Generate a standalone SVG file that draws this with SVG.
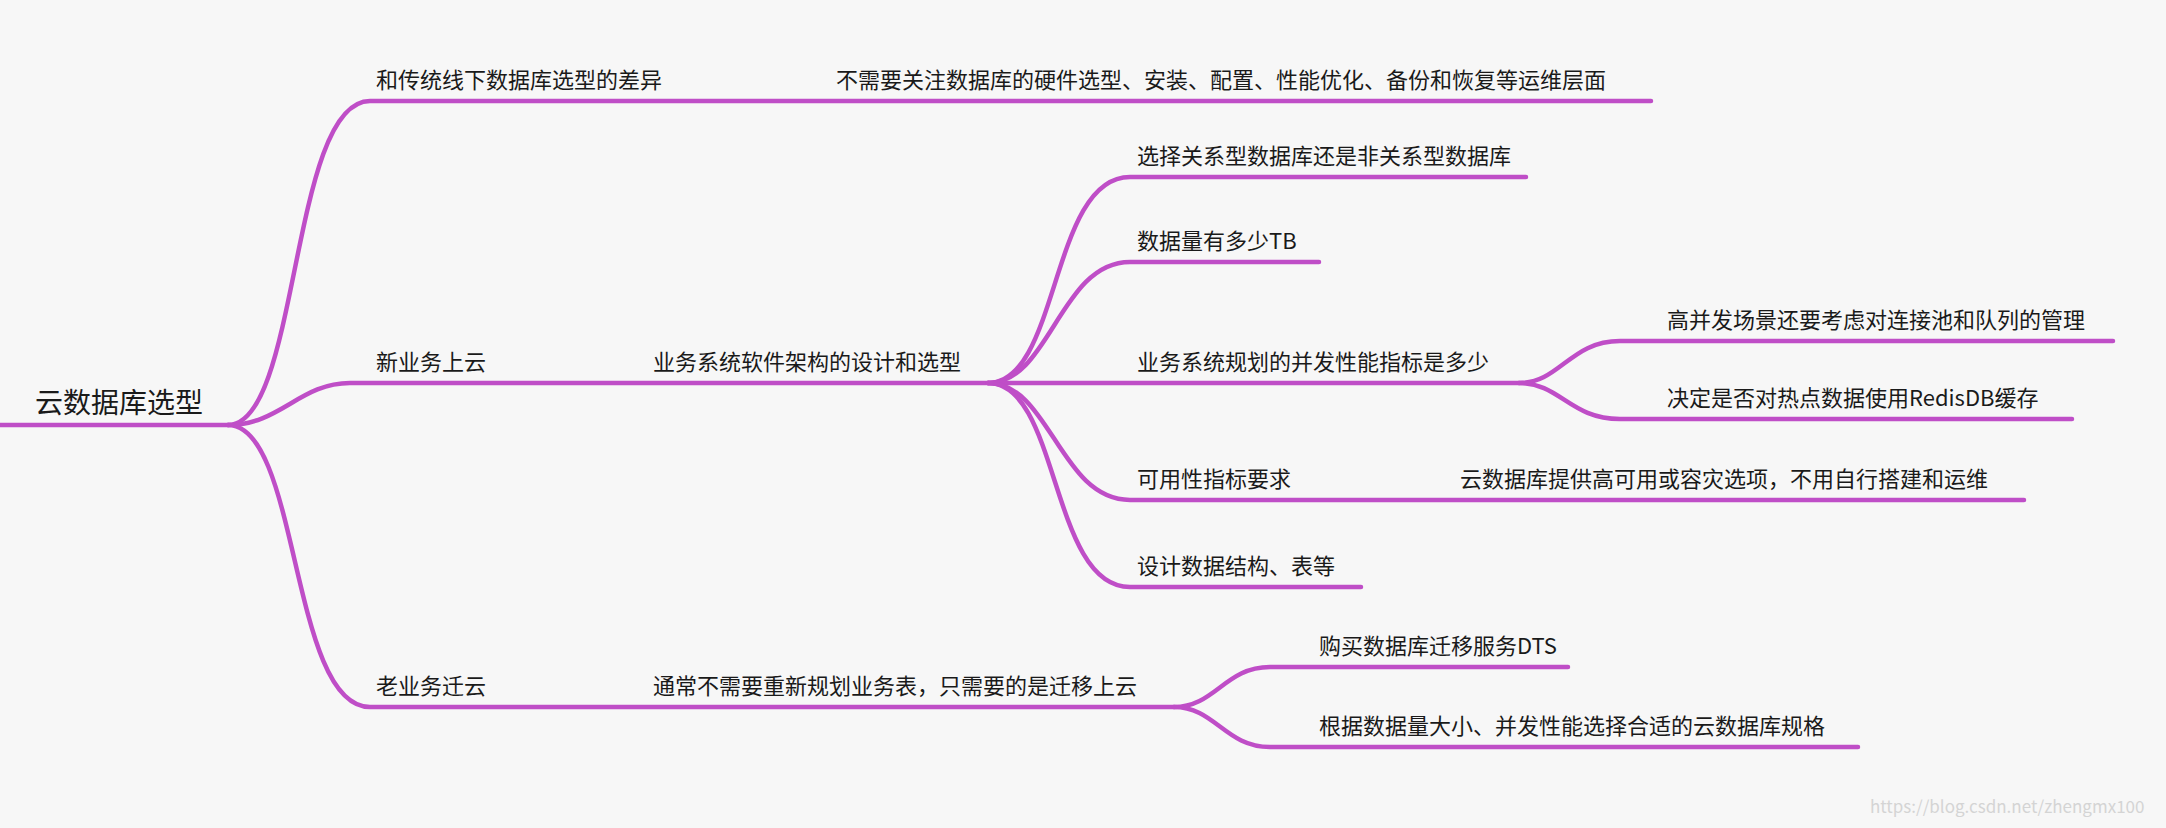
<svg xmlns="http://www.w3.org/2000/svg" width="2166" height="828" viewBox="0 0 2166 828">
<style>
.c{fill:none;stroke:#bf4ec7;stroke-width:4.5;stroke-linecap:round}
text{font-family:"Noto Sans CJK SC","Noto Sans",sans-serif;fill:#1a1a1a;font-size:22px}
.r{font-size:28px}
.w{font-size:17px;fill:#d4d4d4}
</style>
<rect width="2166" height="828" fill="#f7f7f7"/>
<g id="connectors">
<path class="c" d="M0,425 H228"/>
<path class="c" d="M228,425 C300,425 290,101 370,101 H1651"/>
<path class="c" d="M228,425 C280,425 300,383 350,383 H988"/>
<path class="c" d="M228,425 C300,425 290,707 370,707 H1174"/>
<path class="c" d="M988,383 C1060,383 1050,177 1130,177 H1526"/>
<path class="c" d="M988,383 C1050,383 1060,262 1130,262 H1319"/>
<path class="c" d="M988,383 H1519"/>
<path class="c" d="M988,383 C1050,383 1060,500 1130,500 H2024"/>
<path class="c" d="M988,383 C1060,383 1050,587 1130,587 H1361"/>
<path class="c" d="M1519,383 C1560,383 1570,341 1620,341 H2113"/>
<path class="c" d="M1519,383 C1560,383 1570,419 1620,419 H2072"/>
<path class="c" d="M1174,707 C1215,707 1225,667 1270,667 H1568"/>
<path class="c" d="M1174,707 C1215,707 1225,747 1270,747 H1858"/>
</g>
<g id="root"><text class="r" x="35" y="413">云数据库选型</text></g>
<g id="n1"><text x="376" y="88">和传统线下数据库选型的差异</text></g>
<g id="n1a"><text x="836" y="88">不需要关注数据库的硬件选型、安装、配置、性能优化、备份和恢复等运维层面</text></g>
<g id="n2"><text x="376" y="370">新业务上云</text></g>
<g id="n2a"><text x="653" y="370">业务系统软件架构的设计和选型</text></g>
<g id="n2a1"><text x="1137" y="164">选择关系型数据库还是非关系型数据库</text></g>
<g id="n2a2"><text x="1137" y="249">数据量有多少TB</text></g>
<g id="n2a3"><text x="1137" y="370">业务系统规划的并发性能指标是多少</text></g>
<g id="n2a3a"><text x="1667" y="328">高并发场景还要考虑对连接池和队列的管理</text></g>
<g id="n2a3b"><text x="1667" y="406">决定是否对热点数据使用RedisDB缓存</text></g>
<g id="n2a4"><text x="1137" y="487">可用性指标要求</text></g>
<g id="n2a4a"><text x="1460" y="487">云数据库提供高可用或容灾选项，不用自行搭建和运维</text></g>
<g id="n2a5"><text x="1137" y="574">设计数据结构、表等</text></g>
<g id="n3"><text x="376" y="694">老业务迁云</text></g>
<g id="n3a"><text x="653" y="694">通常不需要重新规划业务表，只需要的是迁移上云</text></g>
<g id="n3a1"><text x="1319" y="654">购买数据库迁移服务DTS</text></g>
<g id="n3a2"><text x="1319" y="734">根据数据量大小、并发性能选择合适的云数据库规格</text></g>
<text class="w" x="1870" y="813">https://blog.csdn.net/zhengmx100</text>
</svg>
